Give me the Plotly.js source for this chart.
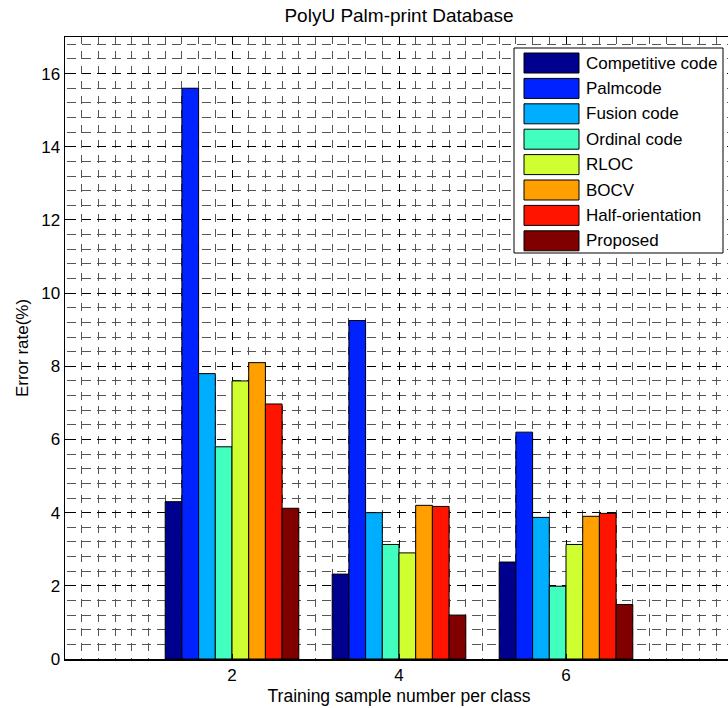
<!DOCTYPE html>
<html>
<head>
<meta charset="utf-8">
<script src="https://cdn.plot.ly/plotly-3.0.1.min.js"></script>
<style>html,body{margin:0;padding:0;overflow:hidden;background:#fff;}</style>
</head>
<body>
<div id="chart" style="width:735px;height:708px;"></div>
<script>
var categories = [2, 4, 6];
var seriesNames = ["Competitive code", "Palmcode", "Fusion code", "Ordinal code", "RLOC", "BOCV", "Half-orientation", "Proposed"];
var seriesColors = ["#00008F", "#0022FF", "#00AEFF", "#40FFBF", "#CFFF30", "#FFA000", "#FF1400", "#800000"];
var competitive = [4.3, 2.32, 2.65];
var palmcode = [15.6, 9.25, 6.2];
var fusion = [7.8, 4.0, 3.87];
var ordinal = [5.8, 3.13, 1.99];
var rloc = [7.6, 2.9, 3.13];
var bocv = [8.1, 4.2, 3.9];
var halfOrientation = [6.97, 4.17, 3.98];
var proposed = [4.12, 1.2, 1.49];
var seriesValues = [competitive, palmcode, fusion, ordinal, rloc, bocv, halfOrientation, proposed];
var yTickVals = [0, 2, 4, 6, 8, 10, 12, 14, 16];

var FONT = "Liberation Sans, Arial, sans-serif";
var traces = seriesNames.map(function (n, i) {
  return {
    type: "bar", name: n, x: categories, y: seriesValues[i],
    marker: {color: seriesColors[i], line: {color: "#000", width: 1}},
    showlegend: false
  };
});

// plot area in px
var L = 65, R = 733, T = 37, B = 659;
function px(p) { return (p - L) / (R - L); }
function py(p) { return (B - p) / (B - T); }

// dash patterns (MATLAB-like dotted grid that drifts against the grid spacing)
function dashList(lead, on, off, n) {
  var parts = lead.slice();
  for (var k = 0; k < n; k++) { parts.push(on + "px", off + "px"); }
  return parts.join(",");
}
var hDash = dashList(["0px", "2px"], 9, 6, 50);          // horizontal grid lines
var vDash = dashList(["7.3px", "6.8px"], 8, 6.8, 50);    // vertical grid lines

var shapes = [{
  type: "rect", xref: "paper", yref: "paper",
  x0: px(514), x1: px(723), y0: py(253), y1: py(48),
  fillcolor: "#fff", line: {color: "#000", width: 1}, layer: "above"
}];
var annotations = [];
seriesNames.forEach(function (n, i) {
  var yc = 63 + 25.4 * i;
  shapes.push({
    type: "rect", xref: "paper", yref: "paper",
    x0: px(524), x1: px(579), y0: py(yc + 10), y1: py(yc - 10),
    fillcolor: seriesColors[i], line: {color: "#000", width: 1}, layer: "above"
  });
  annotations.push({
    xref: "paper", yref: "paper", x: px(584), y: py(yc),
    xanchor: "left", yanchor: "middle", showarrow: false,
    text: n, font: {family: FONT, size: 17, color: "#000"}
  });
});

var layout = {
  width: 735, height: 708,
  margin: {l: L, r: 735 - R, t: T, b: 708 - B},
  paper_bgcolor: "#fff", plot_bgcolor: "#fff",
  font: {family: FONT, size: 17, color: "#000"},
  title: {text: "PolyU Palm-print Database", font: {family: FONT, size: 19, color: "#000"},
          x: 0.5, xref: "paper", y: 1 - 15 / 708, yref: "container", yanchor: "middle"},
  barmode: "group", bargap: 0.2, bargroupgap: 0,
  xaxis: {
    range: [0, 8], tickvals: categories, ticktext: categories.map(String),
    tickfont: {family: FONT, size: 17},
    showgrid: true, gridcolor: "#000", griddash: vDash, gridwidth: 1,
    minor: {dtick: 0.2, tick0: 0, showgrid: true, gridcolor: "#555", griddash: vDash, gridwidth: 1},
    showline: true, linecolor: "#000", linewidth: 1.5, mirror: true,
    ticks: "inside", ticklen: 5, tickcolor: "#000",
    zeroline: false, fixedrange: true,
    title: {text: "Training sample number per class", font: {family: FONT, size: 17.5}, standoff: 6}
  },
  yaxis: {
    range: [0, 17], tickvals: yTickVals,
    tickfont: {family: FONT, size: 17},
    showgrid: true, gridcolor: "#000", griddash: hDash, gridwidth: 1,
    minor: {dtick: 0.4, tick0: 0, showgrid: true, gridcolor: "#555", griddash: hDash, gridwidth: 1},
    showline: true, linecolor: "#000", linewidth: 1.5, mirror: true,
    ticks: "inside", ticklen: 5, tickcolor: "#000",
    zeroline: false, fixedrange: true,
    title: {text: "Error rate(%)", font: {family: FONT, size: 17}, standoff: 8}
  },
  shapes: shapes,
  annotations: annotations
};

Plotly.newPlot("chart", traces, layout, {displayModeBar: false, staticPlot: true});
</script>
</body>
</html>
